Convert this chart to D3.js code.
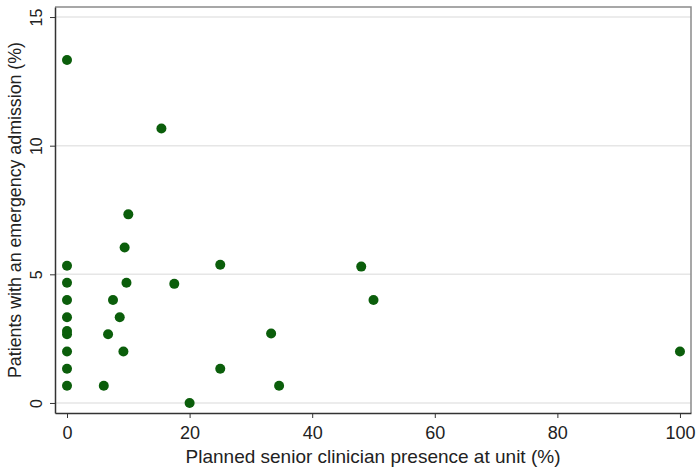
<!DOCTYPE html>
<html>
<head>
<meta charset="utf-8">
<script src="https://cdn.jsdelivr.net/npm/d3@7"></script>
<style>
  body { margin: 0; background: #fff; }
  text { font-family: "Liberation Sans", Arial, sans-serif; }
</style>
</head>
<body>
<div id="vis"></div>
<script>
// data
const presence = [0, 0, 0, 0, 0, 0, 0, 0, 0, 0,
    10, 9.4, 9.7, 17.5, 25, 7.5, 8.6, 6.7, 9.2, 25, 6, 20, 15.4,
    48, 50, 33.3, 100, 34.6];
const admission = [13.33, 5.33, 4.67, 4, 3.33, 2.67, 2.8, 2, 1.33, 0.67,
    7.33, 6.04, 4.67, 4.63, 5.37, 4, 3.33, 2.67, 2, 1.33, 0.67, 0, 10.67,
    5.3, 4, 2.7, 2, 0.67];
const xTicks = [0, 20, 40, 60, 80, 100];
const yTicks = [0, 5, 10, 15];

const svg = d3.select("#vis")
    .append('svg')
    .attr("width", "700")
    .attr("height", "476");

const plotLeft = 55, plotRight = 691, plotTop = 7, plotBottom = 413;

let x = d3.scaleLinear()
    .domain([-1.96, 101.8])
    .range([plotLeft, plotRight]);

let y = d3.scaleLinear()
    .domain([-0.39, 15.39])
    .range([plotBottom, plotTop]);

// grid lines
svg.append('g')
    .selectAll("line")
    .data(yTicks)
    .enter()
    .append("line")
    .attr("x1", plotLeft)
    .attr("x2", plotRight)
    .attr("y1", d => y(d))
    .attr("y2", d => y(d))
    .style("stroke", "#e6e6e6")
    .style("stroke-width", "1.5");

// box border (top and right)
svg.append('path')
    .attr("d", `M${plotLeft},${plotTop}H${plotRight}V${plotBottom}`)
    .attr("fill", "none")
    .style("stroke", "#8a8a8a")
    .style("stroke-width", "1.5");

// axes
const xAxis = svg.append('g')
    .attr("transform", `translate(0,${plotBottom})`)
    .call(d3.axisBottom(x).tickValues(xTicks).tickSize(5).tickPadding(8).tickSizeOuter(0));

const yAxis = svg.append('g')
    .attr("transform", `translate(${plotLeft},0)`)
    .call(d3.axisLeft(y).tickValues(yTicks).tickSize(5).tickPadding(0).tickSizeOuter(0));

[xAxis, yAxis].forEach(function (a) {
    a.select(".domain").style("stroke", "#333").style("stroke-width", "1.5");
    a.selectAll(".tick line").style("stroke", "#333");
    a.selectAll("text").attr("fill", "#222");
});
xAxis.selectAll("text").style("font-size", "18px");
yAxis.selectAll("text").style("font-size", "16px");

yAxis.selectAll(".tick text")
    .attr("transform", "translate(-13,0) rotate(-90)")
    .attr("text-anchor", "middle")
    .attr("dy", "0")
    .attr("x", 0)
    .attr("y", 0);

// axis titles
svg.append('text')
    .attr("x", (plotLeft + plotRight) / 2)
    .attr("y", 463)
    .attr("text-anchor", "middle")
    .style("font-size", "19px")
    .attr("fill", "#222")
    .text("Planned senior clinician presence at unit (%)");

svg.append('text')
    .attr("transform", `translate(21,${(plotTop + plotBottom) / 2}) rotate(-90)`)
    .attr("text-anchor", "middle")
    .style("font-size", "17.8px")
    .attr("fill", "#222")
    .text("Patients with an emergency admission (%)");

// points
svg.append('g')
    .selectAll("circle")
    .data(presence)
    .enter()
    .append("circle")
    .attr("cx", d => x(d))
    .attr("cy", (d, i) => y(admission[i]))
    .attr("r", 5)
    .attr("fill", "#0b5e0b");
</script>
</body>
</html>
